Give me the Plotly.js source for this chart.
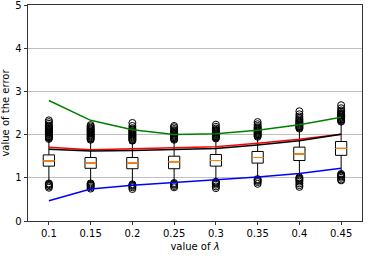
<!DOCTYPE html>
<html><head><meta charset="utf-8">
<script src="https://cdn.plot.ly/plotly-3.0.1.min.js"></script>
<style>body{margin:0;padding:0;background:#fff}#c{width:368px;height:256px}</style>
</head><body><div id="c"></div>
<script>
const tickLabels = ['0.1','0.15','0.2','0.25','0.3','0.35','0.4','0.45'];
const positions = [1,2,3,4,5,6,7,8];
const q1 = [1.27,1.22,1.21,1.21,1.27,1.34,1.40,1.52];
const med = [1.39,1.34,1.34,1.37,1.40,1.47,1.55,1.68];
const q3 = [1.53,1.47,1.47,1.50,1.54,1.61,1.71,1.84];
const upperFence = [1.88,1.84,1.80,1.85,1.88,1.93,2.12,2.28];
const lowerFence = [0.90,0.90,0.88,0.90,0.94,1.00,1.04,1.12];
const outHigh = [
  [1.90,1.92,1.94,1.95,1.97,1.99,2.01,2.03,2.05,2.07,2.09,2.11,2.13,2.15,2.17,2.19,2.21,2.25,2.29,2.33],
  [1.88,1.90,1.92,1.94,1.96,1.98,2.00,2.02,2.04,2.06,2.08,2.10,2.12,2.14,2.16,2.19,2.22],
  [1.86,1.88,1.90,1.92,1.94,1.96,1.98,2.00,2.02,2.04,2.06,2.08,2.10,2.12,2.15,2.20,2.27],
  [1.88,1.90,1.92,1.94,1.96,1.98,2.00,2.02,2.04,2.06,2.08,2.10,2.13,2.17,2.20],
  [1.91,1.93,1.95,1.97,1.99,2.01,2.03,2.05,2.07,2.09,2.11,2.14,2.18,2.23],
  [1.95,1.97,1.99,2.01,2.03,2.05,2.07,2.09,2.11,2.13,2.15,2.17,2.20,2.24,2.29],
  [2.14,2.16,2.18,2.20,2.22,2.24,2.26,2.28,2.30,2.32,2.35,2.38,2.42,2.47,2.54],
  [2.30,2.32,2.34,2.36,2.38,2.40,2.42,2.44,2.46,2.48,2.50,2.53,2.56,2.61,2.68]
];
const outLow = [
  [0.87,0.85,0.83,0.80,0.77],
  [0.87,0.85,0.83,0.81,0.78,0.75],
  [0.85,0.83,0.81,0.78,0.74],
  [0.88,0.86,0.84,0.81,0.78],
  [0.91,0.89,0.87,0.84,0.80,0.76],
  [0.97,0.95,0.93,0.90,0.86],
  [1.01,0.99,0.97,0.94,0.91,0.87,0.83,0.79],
  [1.09,1.07,1.05,1.03,1.00,0.96,0.94]
];
const green = [2.79,2.33,2.11,2.00,2.02,2.10,2.23,2.40];
const red = [1.71,1.65,1.67,1.69,1.72,1.80,1.89,2.01];
const black = [1.66,1.62,1.63,1.65,1.68,1.76,1.86,2.01];
const blue = [0.47,0.74,0.83,0.89,0.95,1.02,1.10,1.22];

const ox = [], oy = [];
positions.forEach((p,i)=>{ outHigh[i].concat(outLow[i]).forEach(v=>{ox.push(p);oy.push(v);}); });

const traces = [
  {type:'box', x:positions, q1:q1, median:med, q3:q3, lowerfence:lowerFence, upperfence:upperFence,
   boxpoints:false, width:0.27, whiskerwidth:0.5, line:{color:'black',width:1}, fillcolor:'white', hoverinfo:'skip', showlegend:false},
  {type:'box', x:positions, q1:med, median:med, q3:med, lowerfence:med, upperfence:med,
   boxpoints:false, width:0.27, whiskerwidth:0, line:{color:'#ff7f0e',width:1}, fillcolor:'rgba(0,0,0,0)', hoverinfo:'skip', showlegend:false},
  {type:'scatter', mode:'markers', x:ox, y:oy, marker:{symbol:'circle-open', size:7, color:'black', line:{width:1,color:'black'}}, showlegend:false},
  {type:'scatter', mode:'lines', x:positions, y:green, line:{color:'#008000',width:1.5}, showlegend:false},
  {type:'scatter', mode:'lines', x:positions, y:blue, line:{color:'#0000ff',width:1.5}, showlegend:false},
  {type:'scatter', mode:'lines', x:positions, y:red, line:{color:'#ff0000',width:1.5}, showlegend:false},
  {type:'scatter', mode:'lines', x:positions, y:black, line:{color:'#000000',width:1.5}, showlegend:false}
];
const layout = {
  width:368, height:256,
  margin:{l:28,r:6,t:5,b:35},
  paper_bgcolor:'white', plot_bgcolor:'white',
  font:{family:'DejaVu Sans', size:10, color:'black'},
  boxmode:'overlay',
  xaxis:{range:[0.5,8.5], tickvals:positions, ticktext:tickLabels, showgrid:false, zeroline:false,
    ticks:'outside', ticklen:3.5, tickwidth:0.8, tickcolor:'black', showline:true, linecolor:'black', linewidth:0.8, mirror:true,
    title:{text:'value of <i>λ</i>', standoff:4, font:{size:10}}},
  yaxis:{range:[0,5], tickvals:[0,1,2,3,4,5], showgrid:true, gridcolor:'#b0b0b0', gridwidth:0.8, zeroline:false,
    ticklabeloverflow:'allow',
    ticks:'outside', ticklen:3.5, tickwidth:0.8, tickcolor:'black', showline:true, linecolor:'black', linewidth:0.8, mirror:true,
    title:{text:'value of the error', standoff:4, font:{size:10}}}
};
Plotly.newPlot('c', traces, layout, {displayModeBar:false, staticPlot:true});
</script></body></html>
